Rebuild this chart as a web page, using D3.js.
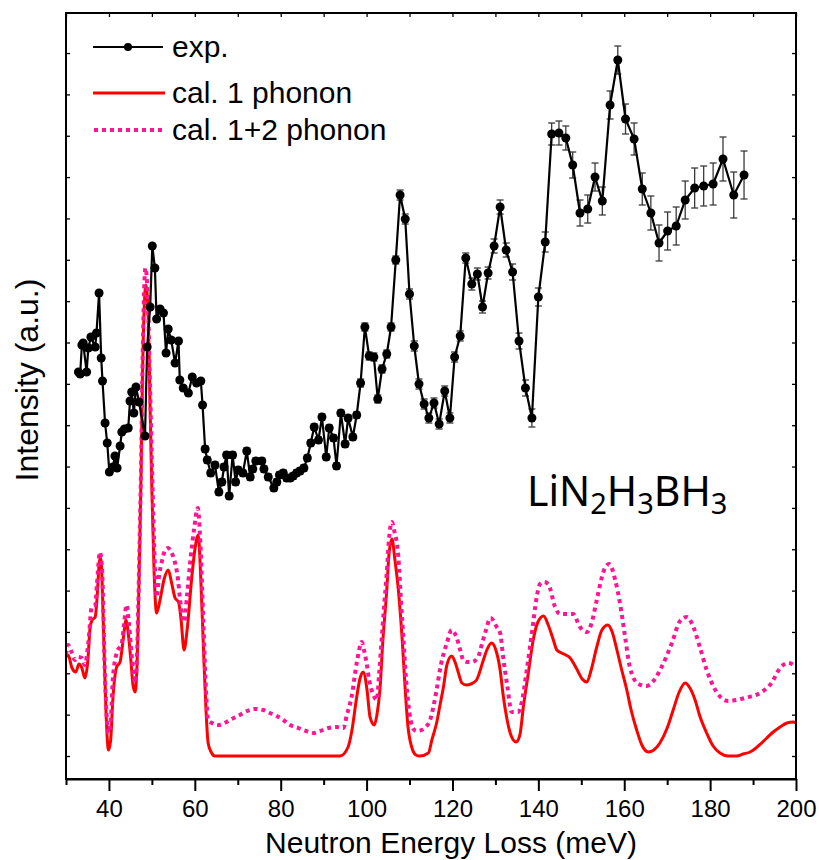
<!DOCTYPE html>
<html>
<head>
<meta charset="utf-8">
<script src="https://cdn.jsdelivr.net/npm/d3@7"></script>
<style>
  html, body { margin: 0; padding: 0; background: #fff; }
  svg { display: block; }
</style>
</head>
<body>
<svg id="chart" width="819" height="860"></svg>
<script>
// ---------------- data (energy in meV, intensity in arbitrary units) ----------------
const expEnergy = [32.9,33.3,33.7,34.0,34.8,35.2,35.8,36.8,37.1,37.7,38.2,38.5,39.1,39.6,40.1,40.9,41.4,41.9,42.6,43.0,43.6,44.5,44.9,45.3,45.8,46.3,47.0,48.4,48.9,49.6,50.1,50.7,51.1,51.9,52.7,53.3,53.8,54.5,55.4,56.2,56.5,57.3,58.5,59.4,60.4,61.4,61.8,62.4,62.9,63.7,64.7,65.6,66.3,66.8,67.4,68.0,68.8,69.5,70.1,71.2,72.1,72.9,73.5,74.2,75.6,76.1,77.1,78.4,79.1,79.7,80.6,81.4,82.2,82.9,83.7,84.5,85.4,86.2,87.0,87.8,88.8,89.6,90.6,91.3,92.3,93.0,94.0,95.0,95.7,96.8,97.7,98.6,99.6,100.6,101.7,102.6,103.6,104.7,105.7,106.8,107.8,109.0,110.0,111.1,112.2,113.4,114.5,115.7,116.9,118.2,119.4,120.5,121.8,123.1,124.5,125.8,127.0,128.3,129.7,131.1,132.5,134.0,135.5,137.0,138.5,140.0,141.6,143.1,144.8,146.4,148.0,149.7,151.5,153.2,154.9,156.7,158.5,160.3,162.3,164.2,166.2,168.1,170.1,172.1,174.2,176.4,178.5,180.7,183.0,185.5,187.9];
const expIntensity = [40.7,40.5,43.4,43.6,40.7,43.1,44.2,43.2,44.6,48.6,42.1,39.8,35.6,33.6,30.7,31.2,32.3,31.1,33.3,34.7,35.0,35.1,37.8,38.7,36.6,39.2,37.7,34.3,43.2,47.2,53.3,51.1,46.0,47.0,46.6,42.6,45.0,43.9,41.6,43.8,39.9,39.1,38.6,40.2,39.6,39.8,37.4,33.0,31.9,30.6,31.4,28.7,29.7,31.2,32.4,28.3,32.4,29.7,30.9,30.6,32.8,30.2,31.0,31.8,31.8,31.0,30.2,29.1,29.7,30.4,30.6,30.1,30.1,30.3,30.6,30.8,31.1,32.1,33.6,35.2,33.9,36.2,32.2,35.1,34.1,31.3,36.6,33.5,36.1,34.2,36.4,39.6,45.2,42.3,42.2,38.0,41.0,42.5,45.2,51.9,58.4,56.0,48.5,43.3,39.5,37.5,36.1,37.6,35.5,38.8,36.1,42.2,44.3,52.1,49.5,50.5,47.2,50.6,53.3,57.2,52.9,50.7,43.8,39.1,36.1,48.2,53.7,64.5,64.6,64.1,61.4,56.6,57.0,60.2,57.8,67.4,71.9,66.0,64.0,59.0,56.6,53.6,54.8,55.3,57.9,59.1,59.3,59.5,62.0,58.4,60.4];
const expError = [0.2,0.2,0.2,0.2,0.2,0.2,0.2,0.2,0.2,0.2,0.2,0.2,0.2,0.2,0.2,0.2,0.2,0.2,0.2,0.2,0.2,0.2,0.2,0.2,0.2,0.2,0.2,0.2,0.2,0.2,0.2,0.2,0.2,0.2,0.2,0.2,0.2,0.2,0.2,0.2,0.2,0.2,0.2,0.2,0.2,0.2,0.2,0.3,0.3,0.3,0.3,0.3,0.3,0.3,0.3,0.3,0.3,0.3,0.3,0.3,0.3,0.3,0.3,0.3,0.3,0.3,0.3,0.3,0.3,0.3,0.3,0.3,0.3,0.3,0.3,0.3,0.3,0.3,0.3,0.3,0.3,0.3,0.3,0.3,0.3,0.3,0.3,0.3,0.3,0.3,0.3,0.4,0.4,0.4,0.4,0.4,0.4,0.4,0.4,0.4,0.5,0.5,0.5,0.5,0.5,0.5,0.5,0.5,0.5,0.5,0.5,0.5,0.5,0.5,0.6,0.6,0.6,0.6,0.7,0.7,0.7,0.8,0.8,0.8,0.9,0.9,1.0,1.1,1.2,1.2,1.3,1.3,1.4,1.4,1.4,1.4,1.4,1.5,1.6,1.6,1.7,1.8,1.9,1.9,1.9,2.0,2.0,2.1,2.2,2.3,2.4];

const cal1Energy = [30.0,30.5,31.4,32.3,33.0,33.7,34.4,35.1,35.6,36.1,36.8,37.2,37.7,38.0,38.4,38.8,39.3,39.9,40.4,40.9,41.8,42.6,43.3,44.0,44.4,45.1,45.6,46.1,46.5,47.1,47.5,47.8,48.2,48.6,49.1,49.6,50.0,50.5,51.1,51.9,52.8,53.8,54.7,55.4,56.2,56.8,57.5,58.2,59.3,60.0,60.8,61.4,62.0,62.6,63.1,63.8,64.7,80.0,93.8,95.7,96.6,97.7,98.5,99.2,100.1,100.8,101.8,102.4,103.1,103.8,104.7,105.2,105.9,106.6,107.4,108.3,109.0,109.6,110.5,111.5,112.4,114.4,115.2,116.3,117.1,117.9,118.7,119.8,120.6,121.4,122.2,123.2,124.3,125.6,127.2,128.0,129.1,130.1,131.1,131.8,132.6,133.6,134.8,135.7,136.5,137.6,138.8,139.9,141.2,142.3,143.5,144.3,145.4,146.4,147.4,148.3,149.3,150.2,151.3,152.3,153.6,154.8,156.2,157.2,158.3,159.3,160.6,161.6,162.9,164.1,165.6,166.9,168.3,170.0,171.4,172.8,174.2,175.3,176.5,177.6,179.2,180.7,182.3,184.2,186.2,187.7,189.3,191.2,193.2,194.7,196.3,197.9,199.4,200.0];
const cal1Intensity = [12.2,12.4,11.1,10.7,11.5,11.1,10.1,11.9,15.1,15.9,16.2,17.9,21.4,22.2,19.9,13.9,6.9,2.9,3.9,7.9,11.2,11.7,13.9,15.9,14.9,11.9,9.4,8.7,10.9,21.9,30.9,39.9,46.9,49.4,46.9,36.9,28.9,20.9,16.6,17.9,19.9,20.9,19.4,18.1,17.7,15.9,12.9,14.9,20.2,22.9,24.4,19.9,13.2,6.9,3.6,2.7,2.3,2.3,2.3,3.2,4.9,8.2,10.1,10.7,8.9,6.2,5.4,6.4,8.9,13.9,18.9,22.4,24.0,21.9,18.9,13.9,8.9,5.4,3.2,2.4,2.3,2.6,3.9,5.6,7.4,9.2,11.4,12.3,11.7,10.6,9.6,9.4,9.5,9.9,11.9,12.9,13.6,12.9,10.9,8.4,6.2,4.4,3.7,4.4,7.2,10.4,13.9,15.7,16.3,15.4,13.9,12.9,12.6,12.4,12.1,11.5,10.7,10.0,9.7,10.9,13.2,14.9,15.4,14.7,12.9,11.1,8.9,6.9,4.9,3.4,2.7,2.9,3.6,5.1,6.9,8.7,9.6,9.1,7.9,6.3,4.6,3.3,2.6,2.3,2.3,2.5,2.7,3.3,4.1,4.7,5.2,5.6,5.7,5.6];

const cal12Energy = [30.0,30.5,31.3,32.1,32.8,33.7,34.4,35.2,36.0,36.8,37.2,37.9,38.4,39.1,39.9,40.5,40.9,41.8,43.0,43.5,44.1,44.7,45.4,46.1,46.5,47.1,47.5,47.8,48.2,48.5,48.9,49.2,49.6,50.0,50.5,51.1,51.7,52.3,53.1,53.8,54.5,55.4,56.1,56.5,57.5,58.2,58.9,59.8,60.7,61.2,62.0,62.6,63.1,64.0,65.5,67.4,68.6,70.5,72.2,74.0,75.9,77.5,79.1,80.6,82.2,84.1,85.9,87.6,89.2,91.1,92.9,94.6,95.4,96.5,97.7,98.9,99.4,100.0,100.6,101.4,102.4,102.9,103.5,104.1,104.7,105.2,105.9,106.4,107.4,108.0,108.6,109.2,109.7,110.9,111.7,112.8,113.8,114.8,115.5,116.3,117.3,118.7,119.8,121.0,121.8,122.5,123.4,124.5,126.0,126.6,127.6,128.9,130.3,131.1,131.8,132.8,133.8,134.6,135.3,136.1,137.3,138.8,139.5,140.4,141.3,142.3,143.9,145.0,146.6,148.1,149.7,151.4,152.4,153.6,154.8,155.5,156.5,157.9,159.0,160.2,161.3,163.3,165.2,166.8,168.7,171.1,173.0,174.6,175.7,177.6,179.2,181.5,184.2,186.0,188.1,191.6,194.3,196.3,198.2,199.8];
const cal12Intensity = [12.4,13.4,12.7,11.9,12.2,12.1,11.4,13.6,17.2,17.4,19.4,22.7,20.9,9.9,4.6,6.4,9.9,12.6,13.6,15.4,17.4,15.4,11.9,9.6,11.9,22.9,31.9,40.9,48.9,51.1,49.4,45.9,38.9,31.9,23.9,18.2,20.4,21.7,22.9,23.1,22.7,21.6,19.9,18.2,15.7,18.4,21.6,24.9,27.1,24.4,15.6,8.9,5.9,5.6,5.4,5.7,6.0,6.4,6.8,7.0,6.9,6.6,6.3,5.9,5.4,5.1,4.8,4.6,4.8,5.1,5.2,5.1,6.4,8.2,11.6,13.7,12.9,11.6,9.9,8.6,7.9,10.4,13.9,17.4,20.6,23.9,25.7,24.9,22.2,17.9,13.9,9.9,7.6,5.0,4.8,4.9,5.2,5.9,7.1,8.9,11.4,13.6,14.9,14.1,12.9,11.9,11.7,11.7,12.2,13.1,14.6,16.1,15.2,14.6,12.2,9.2,6.7,6.7,6.7,7.6,10.9,15.6,17.9,19.5,19.7,19.5,17.2,16.5,16.5,16.5,15.2,14.7,15.6,17.9,20.2,21.1,21.5,19.9,17.6,14.2,11.2,9.5,9.3,9.8,11.2,13.6,15.8,16.2,15.6,13.2,10.9,8.7,7.8,7.9,8.1,8.6,9.6,11.1,11.6,11.3];

const xMajorTicks = [40, 60, 80, 100, 120, 140, 160, 180, 200];
const xMinorTicks = [30, 50, 70, 90, 110, 130, 150, 170, 190];
const seriesNames = ["exp.", "cal. 1 phonon", "cal. 1+2 phonon"];

// ---------------- layout ----------------
const svg = d3.select("#chart");
const M = { left: 66, right: 796, top: 13, bottom: 779 };
const FONT = "'Liberation Sans', Arial, Helvetica, sans-serif";

const x = d3.scaleLinear().domain([30, 200]).range([M.left, M.right]);
const y = d3.scaleLinear().domain([0, 76.6]).range([M.bottom, M.top]);

const expData = d3.zip(expEnergy, expIntensity, expError);
const cal1Data = d3.zip(cal1Energy, cal1Intensity);
const cal12Data = d3.zip(cal12Energy, cal12Intensity);

svg.append("defs").append("clipPath").attr("id", "plotclip")
  .append("rect").attr("x", M.left).attr("y", M.top)
  .attr("width", M.right - M.left).attr("height", M.bottom - M.top);

const plot = svg.append("g").attr("clip-path", "url(#plotclip)");

const curveLine = d3.line().x(d => x(d[0])).y(d => y(d[1])).curve(d3.curveMonotoneX);

// calculated 1 phonon (red solid)
plot.append("path").datum(cal1Data)
  .attr("d", curveLine).attr("fill", "none")
  .attr("stroke", "#ff0000").attr("stroke-width", 3);

// calculated 1+2 phonon (pink dotted)
plot.append("path").datum(cal12Data)
  .attr("d", curveLine).attr("fill", "none")
  .attr("stroke", "#ff1493").attr("stroke-width", 4)
  .attr("stroke-dasharray", "4,4");

// experimental: error bars
const eb = plot.append("g").attr("stroke", "#3a3a3a").attr("stroke-width", 1.3);
expData.forEach(d => {
  const cx = x(d[0]), y1 = y(d[1] - d[2]), y2 = y(d[1] + d[2]);
  eb.append("line").attr("x1", cx).attr("x2", cx).attr("y1", y1).attr("y2", y2);
  eb.append("line").attr("x1", cx - 3.5).attr("x2", cx + 3.5).attr("y1", y1).attr("y2", y1);
  eb.append("line").attr("x1", cx - 3.5).attr("x2", cx + 3.5).attr("y1", y2).attr("y2", y2);
});

// experimental line + markers
plot.append("path").datum(expData)
  .attr("d", d3.line().x(d => x(d[0])).y(d => y(d[1])))
  .attr("fill", "none").attr("stroke", "#000").attr("stroke-width", 2.2)
  .attr("stroke-linejoin", "round");
plot.append("g").selectAll("circle").data(expData).join("circle")
  .attr("cx", d => x(d[0])).attr("cy", d => y(d[1])).attr("r", 4.5).attr("fill", "#000");

// ---------------- axes ----------------
// bottom axis
const xAxis = svg.append("g").attr("transform", `translate(0,${M.bottom})`)
  .call(d3.axisBottom(x).tickValues(xMajorTicks).tickSize(12).tickSizeOuter(0).tickPadding(9).tickFormat(d3.format("d")));
xAxis.select(".domain").attr("stroke-width", 2.2);
xAxis.selectAll(".tick line").attr("stroke-width", 2);
xAxis.selectAll("text").attr("font-family", FONT).attr("font-size", 24).attr("fill", "#000");
svg.append("g").attr("transform", `translate(0,${M.bottom})`)
  .call(d3.axisBottom(x).tickValues(xMinorTicks).tickSize(6).tickSizeOuter(0).tickFormat(""))
  .call(g => g.select(".domain").remove())
  .selectAll(".tick line").attr("stroke-width", 2);

// frame
svg.append("rect").attr("x", M.left).attr("y", M.top)
  .attr("width", M.right - M.left).attr("height", M.bottom - M.top)
  .attr("fill", "none").attr("stroke", "#000").attr("stroke-width", 2);

// top ticks (inward)
svg.append("g").attr("transform", `translate(0,${M.top})`)
  .call(d3.axisBottom(x).tickValues(xMajorTicks.concat(xMinorTicks)).tickSize(4).tickSizeOuter(0).tickFormat(""))
  .call(g => g.select(".domain").remove())
  .selectAll(".tick line").attr("stroke-width", 1.3);

// left / right ticks (inward, unlabeled)
const yTickVals = d3.range(2.3, 76, 4.135);
svg.append("g").attr("transform", `translate(${M.left},0)`)
  .call(d3.axisRight(y).tickValues(yTickVals).tickSize(4).tickSizeOuter(0).tickFormat(""))
  .call(g => g.select(".domain").remove())
  .selectAll(".tick line").attr("stroke-width", 1.3);
svg.append("g").attr("transform", `translate(${M.right},0)`)
  .call(d3.axisLeft(y).tickValues(yTickVals).tickSize(4).tickSizeOuter(0).tickFormat(""))
  .call(g => g.select(".domain").remove())
  .selectAll(".tick line").attr("stroke-width", 1.3);

// axis titles
svg.append("text").attr("x", 451).attr("y", 853).attr("text-anchor", "middle")
  .attr("font-family", FONT).attr("font-size", 30).attr("fill", "#000")
  .text("Neutron Energy Loss (meV)");
svg.append("text").attr("transform", "translate(38,380) rotate(-90)").attr("text-anchor", "middle")
  .attr("font-family", FONT).attr("font-size", 32).attr("fill", "#000")
  .text("Intensity (a.u.)");

// ---------------- legend ----------------
const lg = svg.append("g");
const rows = [47, 93, 130];
lg.append("line").attr("x1", 93).attr("x2", 163).attr("y1", rows[0]).attr("y2", rows[0])
  .attr("stroke", "#000").attr("stroke-width", 2.2);
lg.append("circle").attr("cx", 128).attr("cy", rows[0]).attr("r", 4).attr("fill", "#000");
lg.append("line").attr("x1", 93).attr("x2", 165).attr("y1", rows[1]).attr("y2", rows[1])
  .attr("stroke", "#ff0000").attr("stroke-width", 3);
lg.append("line").attr("x1", 94).attr("x2", 165).attr("y1", rows[2]).attr("y2", rows[2])
  .attr("stroke", "#ff1493").attr("stroke-width", 4).attr("stroke-dasharray", "4,4");
seriesNames.forEach((n, i) => {
  lg.append("text").attr("x", 172).attr("y", rows[i] + 10)
    .attr("font-family", FONT).attr("font-size", 30).attr("fill", "#000").text(n);
});

// compound label
const lab = svg.append("text").attr("x", 527).attr("y", 506)
  .attr("font-family", "'Comic Sans MS', 'Noto Sans', sans-serif").attr("font-size", 41).attr("fill", "#000");
const parts = [["LiN", false], ["2", true], ["H", false], ["3", true], ["BH", false], ["3", true]];
parts.forEach((p, i) => {
  const t = lab.append("tspan").text(p[0]);
  if (p[1]) t.attr("font-size", 29).attr("dy", 8);
  else if (i > 0) t.attr("dy", -8);
});
</script>
</body>
</html>
